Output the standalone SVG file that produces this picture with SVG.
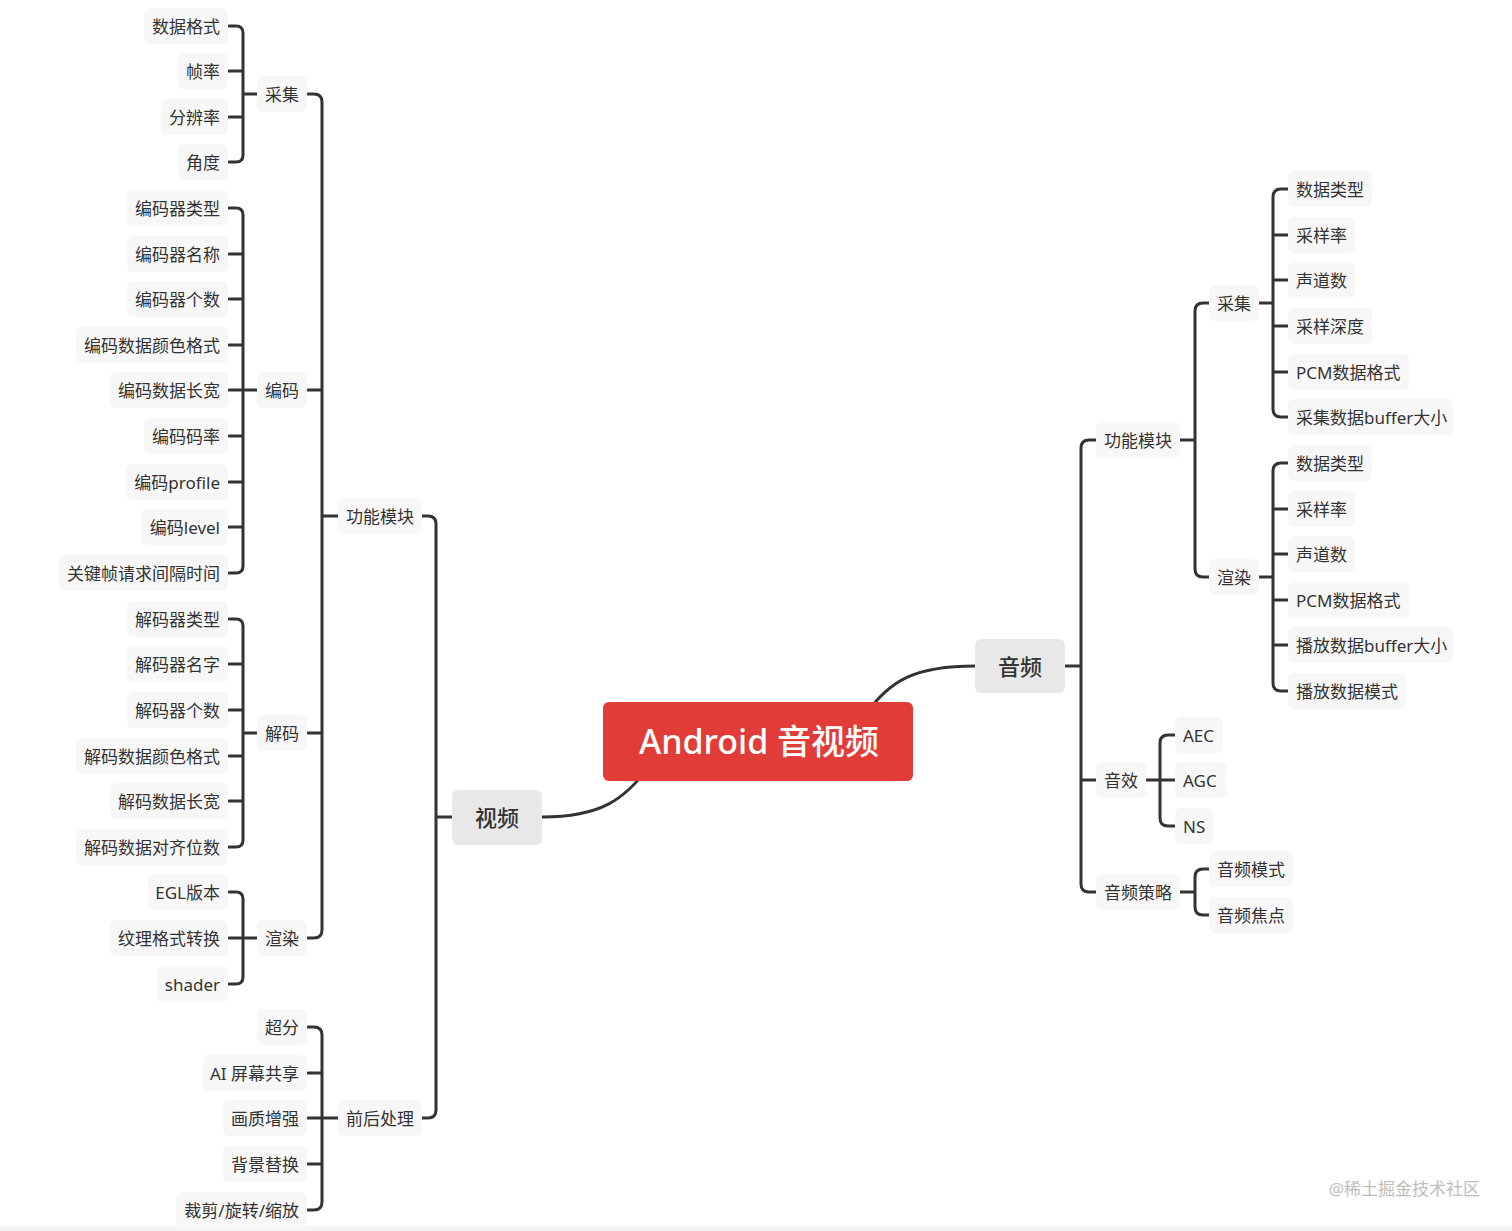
<svg xmlns="http://www.w3.org/2000/svg" width="1512" height="1231" viewBox="0 0 1512 1231">
<style>
text{font-family:"Noto Sans","Noto Sans CJK SC",sans-serif;fill:#333}
.t{font-size:17px;transform:translateY(1px)}
.e{text-anchor:end}
.b{fill:#f7f7f7}
.m{fill:#e8e8e8}
.big{font-size:22px;text-anchor:middle;font-weight:500}
.ln{fill:none;stroke:#333;stroke-width:3;stroke-linecap:round;stroke-linejoin:round}
</style>
<rect width="1512" height="1231" fill="#fff"/>
<rect y="1226" width="1512" height="5" fill="#f4f4f4"/>
<g id="connectors" class="ln">
<path d="M542,817 C600,817 625,800 650,765"/>
<path d="M975,666 C915,666 890,680 865,715"/>
<path d="M229,26 H236 Q243,26 243,33 V155 Q243,162 236,162 H229 M229,71 H243 M229,117 H243 M243,94 H259"/>
<path d="M229,208 H236 Q243,208 243,215 V566 Q243,573 236,573 H229 M229,254 H243 M229,299 H243 M229,345 H243 M229,390 H259 M229,436 H243 M229,482 H243 M229,527 H243"/>
<path d="M229,619 H236 Q243,619 243,626 V840 Q243,847 236,847 H229 M229,664 H243 M229,710 H243 M229,756 H243 M229,801 H243 M243,733 H259"/>
<path d="M229,892 H236 Q243,892 243,899 V977 Q243,984 236,984 H229 M229,938 H259"/>
<path d="M308,94 H314 Q322,94 322,102 V930 Q322,938 314,938 H308 M308,390 H322 M308,733 H322 M322,516 H338"/>
<path d="M308,1027 H314 Q322,1027 322,1035 V1202 Q322,1210 314,1210 H308 M308,1073 H322 M308,1118 H338 M308,1164 H322"/>
<path d="M421,516 H428 Q436,516 436,524 V1110 Q436,1118 428,1118 H421 M436,817 H452"/>
<path d="M1097,440 H1089 Q1081,440 1081,448 V884 Q1081,892 1089,892 H1097 M1081,780 H1097 M1065,666 H1081"/>
<path d="M1210,303 H1203 Q1195,303 1195,311 V569 Q1195,577 1203,577 H1210 M1178,440 H1195"/>
<path d="M1288,189 H1281 Q1273,189 1273,197 V409 Q1273,417 1281,417 H1288 M1288,235 H1273 M1288,280 H1273 M1288,326 H1273 M1288,372 H1273 M1258,303 H1273"/>
<path d="M1288,463 H1281 Q1273,463 1273,471 V683 Q1273,691 1281,691 H1288 M1288,509 H1273 M1288,554 H1273 M1288,600 H1273 M1288,645 H1273 M1258,577 H1273"/>
<path d="M1175,735 H1168 Q1160,735 1160,743 V818 Q1160,826 1168,826 H1175 M1145,780 H1175"/>
<path d="M1210,869 H1203 Q1195,869 1195,877 V907 Q1195,915 1203,915 H1210 M1178,892 H1195"/>
</g>
<g id="root"><rect x="603" y="702" width="310" height="79" rx="6" fill="#e23c39"/><text x="759" y="754" style="font-size:34px;text-anchor:middle;fill:#fff;font-weight:500">Android 音视频</text></g>
<g id="video"><rect class="m" x="452" y="790" width="90" height="55" rx="6"/><text class="big" x="497" y="826">视频</text></g>
<g id="audio"><rect class="m" x="975" y="639" width="90" height="54" rx="6"/><text class="big" x="1020" y="675">音频</text></g>
<g id="v-func"><rect class="b" x="338" y="498" width="84" height="36" rx="6"/><text class="t" x="346" y="522">功能模块</text></g>
<g id="v-pre"><rect class="b" x="338" y="1100" width="84" height="36" rx="6"/><text class="t" x="346" y="1124">前后处理</text></g>
<g id="v-cap"><rect class="b" x="257" y="76" width="50" height="36" rx="6"/><text class="t e" x="299" y="100">采集</text></g>
<g id="v-enc"><rect class="b" x="257" y="372" width="50" height="36" rx="6"/><text class="t e" x="299" y="396">编码</text></g>
<g id="v-dec"><rect class="b" x="257" y="715" width="50" height="36" rx="6"/><text class="t e" x="299" y="739">解码</text></g>
<g id="v-ren"><rect class="b" x="257" y="920" width="50" height="36" rx="6"/><text class="t e" x="299" y="944">渲染</text></g>
<g id="v1"><rect class="b" x="144" y="8" width="84" height="36" rx="6"/><text class="t e" x="220" y="32">数据格式</text></g>
<g id="v2"><rect class="b" x="178" y="53" width="50" height="36" rx="6"/><text class="t e" x="220" y="77">帧率</text></g>
<g id="v3"><rect class="b" x="161" y="99" width="67" height="36" rx="6"/><text class="t e" x="220" y="123">分辨率</text></g>
<g id="v4"><rect class="b" x="178" y="144" width="50" height="36" rx="6"/><text class="t e" x="220" y="168">角度</text></g>
<g id="v5"><rect class="b" x="127" y="190" width="101" height="36" rx="6"/><text class="t e" x="220" y="214">编码器类型</text></g>
<g id="v6"><rect class="b" x="127" y="236" width="101" height="36" rx="6"/><text class="t e" x="220" y="260">编码器名称</text></g>
<g id="v7"><rect class="b" x="127" y="281" width="101" height="36" rx="6"/><text class="t e" x="220" y="305">编码器个数</text></g>
<g id="v8"><rect class="b" x="76" y="327" width="152" height="36" rx="6"/><text class="t e" x="220" y="351">编码数据颜色格式</text></g>
<g id="v9"><rect class="b" x="110" y="372" width="118" height="36" rx="6"/><text class="t e" x="220" y="396">编码数据长宽</text></g>
<g id="v10"><rect class="b" x="144" y="418" width="84" height="36" rx="6"/><text class="t e" x="220" y="442">编码码率</text></g>
<g id="v11"><rect class="b" x="126" y="464" width="102" height="36" rx="6"/><text class="t e" x="220" y="488">编码profile</text></g>
<g id="v12"><rect class="b" x="141" y="509" width="87" height="36" rx="6"/><text class="t e" x="220" y="533">编码level</text></g>
<g id="v13"><rect class="b" x="59" y="555" width="169" height="36" rx="6"/><text class="t e" x="220" y="579">关键帧请求间隔时间</text></g>
<g id="v14"><rect class="b" x="127" y="601" width="101" height="36" rx="6"/><text class="t e" x="220" y="625">解码器类型</text></g>
<g id="v15"><rect class="b" x="127" y="646" width="101" height="36" rx="6"/><text class="t e" x="220" y="670">解码器名字</text></g>
<g id="v16"><rect class="b" x="127" y="692" width="101" height="36" rx="6"/><text class="t e" x="220" y="716">解码器个数</text></g>
<g id="v17"><rect class="b" x="76" y="738" width="152" height="36" rx="6"/><text class="t e" x="220" y="762">解码数据颜色格式</text></g>
<g id="v18"><rect class="b" x="110" y="783" width="118" height="36" rx="6"/><text class="t e" x="220" y="807">解码数据长宽</text></g>
<g id="v19"><rect class="b" x="76" y="829" width="152" height="36" rx="6"/><text class="t e" x="220" y="853">解码数据对齐位数</text></g>
<g id="v20"><rect class="b" x="148" y="874" width="80" height="36" rx="6"/><text class="t e" x="220" y="898">EGL版本</text></g>
<g id="v21"><rect class="b" x="110" y="920" width="118" height="36" rx="6"/><text class="t e" x="220" y="944">纹理格式转换</text></g>
<g id="v22"><rect class="b" x="157" y="966" width="71" height="36" rx="6"/><text class="t e" x="220" y="990">shader</text></g>
<g id="p1"><rect class="b" x="257" y="1009" width="50" height="36" rx="6"/><text class="t e" x="299" y="1033">超分</text></g>
<g id="p2"><rect class="b" x="203" y="1055" width="104" height="36" rx="6"/><text class="t e" x="299" y="1079">AI 屏幕共享</text></g>
<g id="p3"><rect class="b" x="223" y="1100" width="84" height="36" rx="6"/><text class="t e" x="299" y="1124">画质增强</text></g>
<g id="p4"><rect class="b" x="223" y="1146" width="84" height="36" rx="6"/><text class="t e" x="299" y="1170">背景替换</text></g>
<g id="p5"><rect class="b" x="176" y="1192" width="131" height="36" rx="6"/><text class="t e" x="299" y="1216">裁剪/旋转/缩放</text></g>
<g id="a-func"><rect class="b" x="1096" y="422" width="84" height="36" rx="6"/><text class="t" x="1104" y="446">功能模块</text></g>
<g id="a-cap"><rect class="b" x="1209" y="285" width="50" height="36" rx="6"/><text class="t" x="1217" y="309">采集</text></g>
<g id="a-ren"><rect class="b" x="1209" y="559" width="50" height="36" rx="6"/><text class="t" x="1217" y="583">渲染</text></g>
<g id="a-eff"><rect class="b" x="1096" y="762" width="50" height="36" rx="6"/><text class="t" x="1104" y="786">音效</text></g>
<g id="a-pol"><rect class="b" x="1096" y="874" width="84" height="36" rx="6"/><text class="t" x="1104" y="898">音频策略</text></g>
<g id="a1"><rect class="b" x="1288" y="171" width="84" height="36" rx="6"/><text class="t" x="1296" y="195">数据类型</text></g>
<g id="a2"><rect class="b" x="1288" y="217" width="67" height="36" rx="6"/><text class="t" x="1296" y="241">采样率</text></g>
<g id="a3"><rect class="b" x="1288" y="262" width="67" height="36" rx="6"/><text class="t" x="1296" y="286">声道数</text></g>
<g id="a4"><rect class="b" x="1288" y="308" width="84" height="36" rx="6"/><text class="t" x="1296" y="332">采样深度</text></g>
<g id="a5"><rect class="b" x="1288" y="354" width="121" height="36" rx="6"/><text class="t" x="1296" y="378">PCM数据格式</text></g>
<g id="a6"><rect class="b" x="1288" y="399" width="165" height="36" rx="6"/><text class="t" x="1296" y="423">采集数据buffer大小</text></g>
<g id="a7"><rect class="b" x="1288" y="445" width="84" height="36" rx="6"/><text class="t" x="1296" y="469">数据类型</text></g>
<g id="a8"><rect class="b" x="1288" y="491" width="67" height="36" rx="6"/><text class="t" x="1296" y="515">采样率</text></g>
<g id="a9"><rect class="b" x="1288" y="536" width="67" height="36" rx="6"/><text class="t" x="1296" y="560">声道数</text></g>
<g id="a10"><rect class="b" x="1288" y="582" width="121" height="36" rx="6"/><text class="t" x="1296" y="606">PCM数据格式</text></g>
<g id="a11"><rect class="b" x="1288" y="627" width="165" height="36" rx="6"/><text class="t" x="1296" y="651">播放数据buffer大小</text></g>
<g id="a12"><rect class="b" x="1288" y="673" width="118" height="36" rx="6"/><text class="t" x="1296" y="697">播放数据模式</text></g>
<g id="a13"><rect class="b" x="1175" y="717" width="48" height="36" rx="6"/><text class="t" x="1183" y="741">AEC</text></g>
<g id="a14"><rect class="b" x="1175" y="762" width="51" height="36" rx="6"/><text class="t" x="1183" y="786">AGC</text></g>
<g id="a15"><rect class="b" x="1175" y="808" width="38" height="36" rx="6"/><text class="t" x="1183" y="832">NS</text></g>
<g id="a16"><rect class="b" x="1209" y="851" width="84" height="36" rx="6"/><text class="t" x="1217" y="875">音频模式</text></g>
<g id="a17"><rect class="b" x="1209" y="897" width="84" height="36" rx="6"/><text class="t" x="1217" y="921">音频焦点</text></g>
<text x="1480" y="1195" style="font-size:17px;text-anchor:end;fill:#bdbdbd">@稀土掘金技术社区</text>
</svg>
